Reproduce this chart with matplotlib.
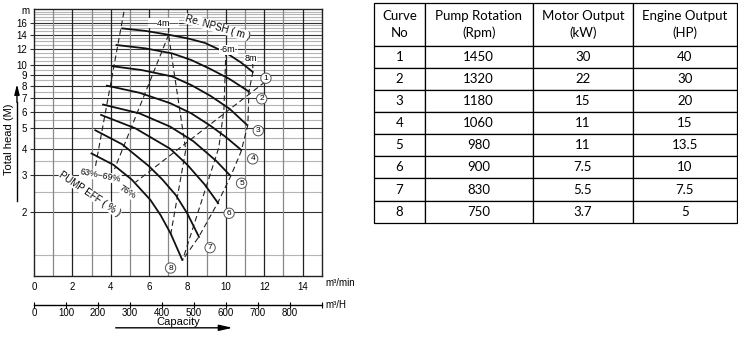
import matplotlib.pyplot as plt
from matplotlib.ticker import NullLocator

plt.rcParams['font.family'] = ['Liberation Sans', 'DejaVu Sans']

# pump performance curves: capacity (m3/min) vs total head (m)
curve_q = [
    [4.6, 5.8, 7.0, 8.0, 8.9, 10.0, 10.8, 11.4],
    [4.3, 5.8, 7.2, 8.2, 9.2, 10.2, 11.2],
    [4.1, 5.6, 7.2, 8.2, 9.2, 10.2, 11.1],
    [3.8, 5.5, 7.1, 8.2, 9.2, 10.0, 10.8],
    [3.6, 5.5, 7.1, 8.3, 9.5, 10.2],
    [3.5, 5.3, 7.1, 8.0, 8.9, 9.6],
    [3.2, 4.6, 6.0, 6.7, 7.4, 8.0, 8.6],
    [3.0, 4.15, 5.1, 6.07, 6.6, 7.12, 7.73],
]
curve_h = [
    [15.0, 14.6, 14.0, 13.45, 12.8, 11.5, 10.3, 9.3],
    [12.5, 12.05, 11.4, 10.6, 9.6, 8.6, 7.5],
    [9.9, 9.5, 8.85, 8.05, 7.15, 6.2, 5.2],
    [8.0, 7.4, 6.6, 5.9, 5.15, 4.55, 3.95],
    [6.5, 5.9, 5.1, 4.35, 3.5, 3.0],
    [5.8, 5.0, 4.0, 3.35, 2.7, 2.2],
    [4.9, 4.2, 3.3, 2.85, 2.4, 1.96, 1.52],
    [3.8, 3.35, 2.85, 2.28, 1.93, 1.58, 1.18],
]
curve_names = ['1', '2', '3', '4', '5', '6', '7', '8']
tag_q = [12.09, 11.87, 11.69, 11.4, 10.82, 10.17, 9.18, 7.12]
tag_h = [8.68, 6.92, 4.88, 3.58, 2.74, 1.97, 1.35, 1.08]

# pump efficiency lines
eff63_q, eff63_h = [4.69, 3.19], [18.0, 3.24]
eff69_q, eff69_h = [7.02, 4.2], [14.0, 3.2]
eff76_q, eff76_h = [12.04, 5.29], [8.33, 2.77]

# required NPSH lines
npsh4_q, npsh4_h = [7.02, 7.02, 7.23, 7.91, 7.12], [15.2, 14.0, 10.27, 3.95, 1.55]
npsh6_q, npsh6_h = [10.0, 10.0, 9.9, 9.63, 7.75], [11.7, 11.47, 6.13, 4.04, 1.18]
npsh8_q = [11.4, 11.41, 11.2, 11.15, 10.79, 10.26, 9.58, 8.59, 7.75]
npsh8_h = [10.3, 9.31, 7.47, 5.2, 3.87, 2.97, 2.21, 1.52, 1.18]

# table
curve_no = [1, 2, 3, 4, 5, 6, 7, 8]
rpm = [1450, 1320, 1180, 1060, 980, 900, 830, 750]
motor_kw = ['30', '22', '15', '11', '11', '7.5', '5.5', '3.7']
engine_hp = ['40', '30', '20', '15', '13.5', '10', '7.5', '5']

head_ticks = [2, 3, 4, 5, 6, 7, 8, 9, 10, 12, 14, 16]
head_fine = [1.25, 2.5, 3.5, 4.5, 5.5, 6.5, 7.5, 8.5, 9.5, 10.5, 11, 11.5,
             12.5, 13, 13.5, 14.5, 15, 15.5, 16.5, 17, 17.5, 18]

fig = plt.figure(figsize=(7.38, 3.39), dpi=100)
ax = fig.add_axes([0.046, 0.186, 0.390, 0.788])
ax.set_yscale('log')
ax.set_xlim(0, 15)
ax.set_ylim(0.99, 18.6)

# grid
for v in head_fine:
    ax.axhline(v, color='#b5b5b5', lw=0.8, zorder=0)
for v in head_ticks:
    ax.axhline(v, color='#333333', lw=0.8, zorder=0.5)
for q in range(1, 15):
    ax.axvline(q, color='#222222' if q % 2 == 0 else '#888888', lw=0.9, zorder=0.5)

for q, h in zip(curve_q, curve_h):
    ax.plot(q, h, color='#111111', lw=1.3, zorder=3, solid_joinstyle='round')

dash = (0, (5, 3))
for q, h in [(eff63_q, eff63_h), (eff69_q, eff69_h), (eff76_q, eff76_h),
             (npsh4_q, npsh4_h), (npsh6_q, npsh6_h), (npsh8_q, npsh8_h)]:
    ax.plot(q, h, color='#222222', lw=0.8, linestyle=dash, zorder=2)

for q, h, s in zip(tag_q, tag_h, curve_names):
    ax.text(q, h, s, ha='center', va='center', fontsize=6, zorder=4,
            bbox=dict(boxstyle='circle,pad=0.2', fc='white', ec='#555555', lw=0.7))

ax.text(6.75, 15.9, '—4m—', fontsize=6.5, ha='center', va='center',
        bbox=dict(fc='white', ec='none', pad=0.3), zorder=4)
ax.text(9.56, 15.17, 'Re. NPSH ( m )', fontsize=7, ha='center', va='center',
        rotation=-16, rotation_mode='anchor', zorder=4,
        bbox=dict(fc='white', ec='none', pad=0.2))
ax.text(10.16, 11.85, '-6m-', fontsize=6.5, ha='center', va='center', zorder=4,
        bbox=dict(fc='white', ec='none', pad=0.2))
ax.text(11.31, 10.74, '8m', fontsize=6.5, ha='center', va='center', zorder=4,
        bbox=dict(fc='white', ec='none', pad=0.2))
ax.text(3.46, 2.97, '63%–69%', fontsize=6.5, ha='center', va='center',
        rotation=-11, rotation_mode='anchor', zorder=4,
        bbox=dict(fc='white', ec='none', pad=0.2))
ax.text(4.87, 2.49, '76%', fontsize=6.5, ha='center', va='center',
        rotation=-33, rotation_mode='anchor', zorder=4,
        bbox=dict(fc='white', ec='none', pad=0.2))
ax.text(2.93, 2.44, 'PUMP EFF ( % )', fontsize=7, ha='center', va='center',
        rotation=-34, rotation_mode='anchor', zorder=4,
        bbox=dict(fc='white', ec='none', pad=0.2))

ax.set_yticks(head_ticks)
ax.set_yticklabels([str(v) for v in head_ticks])
ax.yaxis.set_minor_locator(NullLocator())
ax.set_xticks(range(0, 15, 2))
ax.tick_params(axis='both', labelsize=7, length=3, width=0.8, pad=2, color='#333333')
ax.tick_params(axis='x', length=0, pad=4)
for sp in ax.spines.values():
    sp.set_linewidth(1.0)
    sp.set_color('#222222')
ax.text(-0.015, 0.992, 'm', transform=ax.transAxes, fontsize=7, ha='right', va='center')
ax.text(1.014, -0.028, 'm³/min', transform=ax.transAxes, fontsize=7, ha='left', va='center')

sec = ax.secondary_xaxis(-0.1086, functions=(lambda q: q * 60, lambda h: h / 60))
sec.set_xticks(range(0, 900, 100))
sec.set_xticks([900], minor=True)
sec.tick_params(which='both', direction='inout', length=4, width=0.8, labelsize=7, pad=0)
sec.spines['bottom'].set_linewidth(1.0)
ax.text(1.014, -0.1086, 'm³/H', transform=ax.transAxes, fontsize=7, ha='left', va='center')

fig.text(0.012, 0.59, 'Total head (M)', rotation=90, fontsize=8, ha='center', va='center')
fig.add_artist(plt.Line2D([0.023, 0.023], [0.407, 0.70], color='black', lw=1.0))
ax.annotate('', xy=(0.023, 0.76), xytext=(0.023, 0.69), xycoords='figure fraction',
            arrowprops=dict(arrowstyle='-|>,head_length=0.6,head_width=0.15', lw=1.0, color='black'))
fig.text(0.241, 0.051, 'Capacity', fontsize=8, ha='center', va='center')
ax.annotate('', xy=(0.319, 0.033), xytext=(0.153, 0.033), xycoords='figure fraction',
            arrowprops=dict(arrowstyle='-|>,head_length=0.8,head_width=0.18', lw=1.0, color='black'))

# specification table
header = ['Curve\nNo', 'Pump Rotation\n(Rpm)', 'Motor Output\n(kW)', 'Engine Output\n(HP)']
rows = [[str(n), str(r), m, e] for n, r, m, e in zip(curve_no, rpm, motor_kw, engine_hp)]
axt = fig.add_axes([0.507, 0.343, 0.491, 0.648])
axt.axis('off')
tbl = axt.table(cellText=rows, colLabels=header, colWidths=[50.7, 107.7, 100.6, 103.4],
                cellLoc='center', bbox=[0, 0, 1, 1])
tbl.auto_set_font_size(False)
tbl.set_fontsize(9.5)
for (r, c), cell in tbl.get_celld().items():
    cell.set_linewidth(0.9)
    cell.get_text().set_fontfamily('Lato')
    if r == 0:
        cell.set_height(cell.get_height() * 1.92)
        cell.get_text().set_linespacing(1.45)

fig.savefig('out.png', dpi=100)
